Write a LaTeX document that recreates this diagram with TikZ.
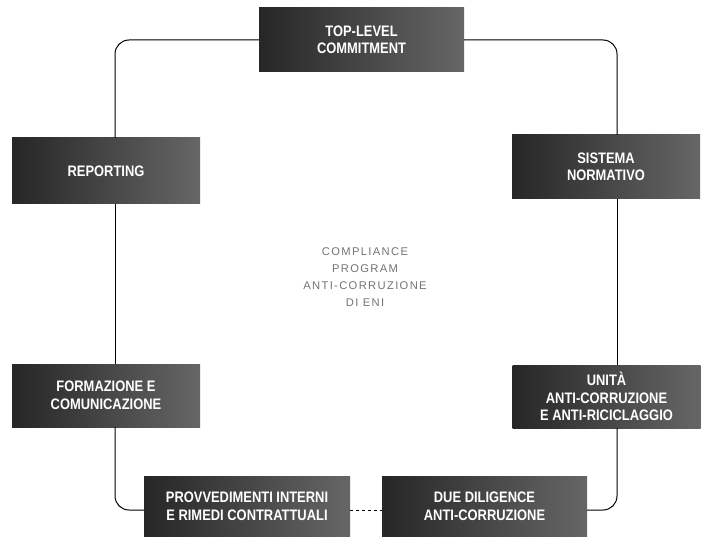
\documentclass[tikz,border=0pt]{standalone}
\usepackage{fontspec}
\usepackage{tikz}
\newfontfamily\boxfont[FakeStretch=0.85]{Liberation Sans}
\newfontfamily\centerfont[LetterSpace=12]{Liberation Sans}

\tikzset{
	block/.style={rectangle, inner sep=0pt, left color=black!85, right color=black!60,
		text=white, align=center, font=\boxfont\bfseries\fontsize{15.2}{17.5}\selectfont},
	frame/.style={line width=1pt, rounded corners=14pt},
}

\begin{document}
\begin{tikzpicture}[x=1pt,y=-1pt]
	\useasboundingbox (0,0) rectangle (709,537);

	\coordinate (tl) at (115,40);
	\coordinate (tr) at (617,40);
	\coordinate (bl) at (115,510);
	\coordinate (br) at (617,510);

	\node[block, minimum width=205pt, minimum height=64pt] (top) at (361.5,40) {TOP-LEVEL\\COMMITMENT};
	\node[block, minimum width=188pt, minimum height=66pt] (report) at (106,171) {REPORTING};
	\node[block, minimum width=188pt, minimum height=64pt] (sistema) at (606,167) {SISTEMA\\NORMATIVO};
	\node[block, minimum width=188pt, minimum height=63pt] (formaz) at (106,395.5) {FORMAZIONE E\\COMUNICAZIONE};
	\node[block, minimum width=188pt, minimum height=63pt] (unita) at (606.5,396.5) {UNITÀ\\ANTI-CORRUZIONE\\E ANTI-RICICLAGGIO};
	\node[block, minimum width=206pt, minimum height=61pt] (provv) at (247,506.5) {PROVVEDIMENTI INTERNI\\E RIMEDI CONTRATTUALI};
	\node[block, minimum width=205pt, minimum height=61pt] (due) at (484.5,506.5) {DUE DILIGENCE\\ANTI-CORRUZIONE};

	\node[align=center, text=black!55, font=\centerfont\fontsize{11.2}{17}\selectfont] (program) at (365,277)
		{COMPLIANCE\\PROGRAM\\ANTI-CORRUZIONE\\DI ENI};

	\draw[frame] (top.west) -- (tl) -- (report.north -| tl);
	\draw[frame] (report.south -| tl) -- (formaz.north -| tl);
	\draw[frame] (formaz.south -| bl) -- (bl) -- (provv.west |- bl);
	\draw[line width=1pt, dashed] (provv.east |- bl) -- (due.west |- bl);
	\draw[frame] (due.east |- br) -- (br) -- (unita.south -| br);
	\draw[frame] (unita.north -| tr) -- (sistema.south -| tr);
	\draw[frame] (sistema.north -| tr) -- (tr) -- (top.east);
\end{tikzpicture}
\end{document}
